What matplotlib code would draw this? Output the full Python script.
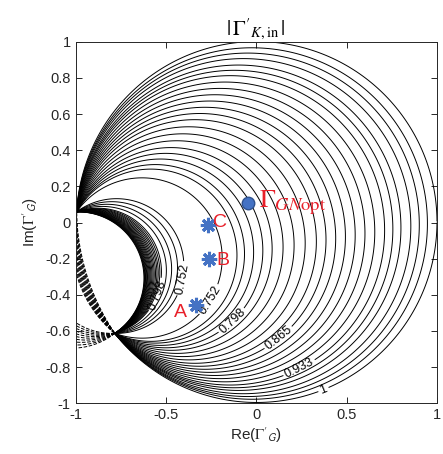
import numpy as np
import matplotlib
matplotlib.use("Agg")
import matplotlib.pyplot as plt

plt.rcParams['font.family'] = ['Liberation Sans', 'DejaVu Sans']
plt.rcParams['mathtext.fontset'] = 'stix'
plt.rcParams['axes.unicode_minus'] = False

# ---------------- data ----------------
# two common points through which every contour arc passes
pencil_a = (-0.995, 0.059)
pencil_b = (-0.784, -0.613)

# outer arcs (right of the minimum): crossing of Im=0, from |G|=1 inwards
outer_cross_x = [1.0, 0.947, 0.902, 0.855, 0.800, 0.755, 0.709, 0.654, 0.599,
                 0.544, 0.489, 0.434, 0.379, 0.324, 0.260, 0.196, 0.132, 0.068,
                 0.013, -0.042, -0.097, -0.143, -0.235]
# inner arcs (left of the minimum): inscribed angle (deg) of each arc
inner_arc_deg = [71.0, 75.2, 79.5, 83.7, 88.0, 89.5, 91.0, 92.3, 93.7, 95.0,
                 96.2, 97.4, 98.5, 99.5, 100.5, 101.5, 102.4, 103.2, 104.0,
                 104.7, 105.4, 106.0, 106.6]
# arcs on the far side of the chord: thin band near the left edge
band_arc_deg = [147.0, 148.5, 150.0, 151.5, 153.0, 154.5, 156.0, 157.5, 159.0,
                160.5, 162.0, 163.5]
# arcs fanning out of the lower common point to the left edge
fan_arc_deg = [69, 73, 77, 81, 85, 89, 93, 97, 101, 105]

# contour labels: text, which arc, position
label_text = ['1', '0.933', '0.865', '0.798', '0.752', '0.752', '0.798']
label_arc = [('outer', 0), ('outer', 6), ('outer', 12), ('outer', 18),
             ('outer', 22), ('inner', 0), ('inner', 4)]
label_xy = [(0.37, -0.92), (0.22, -0.77), (0.10, -0.61), (-0.11, -0.57),
            (-0.27, -0.42), (-0.41, -0.31), (-0.55, -0.40)]

# annotated points
star_names = ['A', 'B', 'C']
star_x = [-0.335, -0.262, -0.266]
star_y = [-0.457, -0.204, -0.015]
star_label_x = [-0.418, -0.185, -0.203]
star_label_y = [-0.50, -0.208, -0.002]
opt_x, opt_y = -0.048, 0.11

x_ticks = [-1, -0.5, 0, 0.5, 1]
x_tick_labels = ['-1', '-0.5', '0', '0.5', '1']
y_ticks = [-1, -0.8, -0.6, -0.4, -0.2, 0, 0.2, 0.4, 0.6, 0.8, 1]
y_tick_labels = ['-1', '-0.8', '-0.6', '-0.4', '-0.2', '0', '0.2', '0.4',
                 '0.6', '0.8', '1']

# ---------------- field: angle of the circle pencil ----------------
a = complex(*pencil_a)
b = complex(*pencil_b)

def arc_angle(z):
    return -np.degrees(np.angle((z - a) / (z - b)))

n = 1401
xs = np.linspace(-1, 1, n)
ys = np.linspace(-1, 1, n)
X, Y = np.meshgrid(xs, ys)
T = arc_angle(X + 1j * Y)
T = np.where(np.abs(T) > 172, np.nan, T)

outer_levels = [float(arc_angle(complex(x, 0.0))) for x in outer_cross_x]
inner_levels = [float(v) for v in inner_arc_deg]
left_levels = [-float(v) for v in band_arc_deg] + [-float(v) for v in fan_arc_deg]

groups = {'outer': outer_levels, 'inner': inner_levels}
lab_levels = [groups[g][i] for g, i in label_arc]
fmt = {}
for lev, txt in zip(lab_levels, label_text):
    fmt[lev] = txt

all_levels = set(outer_levels + inner_levels + left_levels)
plain_levels = sorted(all_levels - set(lab_levels))
labelled_levels = sorted(set(lab_levels))

fig = plt.figure(figsize=(4.43, 4.54), dpi=100)
ax = fig.add_axes([0.1709, 0.1117, 0.8155, 0.7964])

ax.contour(X, Y, T, levels=plain_levels, colors='black', linewidths=0.7)
cs_lab = ax.contour(X, Y, T, levels=labelled_levels, colors='black', linewidths=0.7)
ax.clabel(cs_lab, fmt=fmt, manual=label_xy, inline=True, inline_spacing=2,
          fontsize=9, colors='black')

blue = '#4472C4'
red = '#E8202A'
ax.plot(star_x, star_y, linestyle='none', marker=(8, 2, 0), markersize=11,
        markeredgewidth=2.2, color=blue, zorder=5)
for nm, lx, ly in zip(star_names, star_label_x, star_label_y):
    ax.text(lx, ly, nm, color=red, fontsize=14, ha='center', va='center', zorder=6)
ax.plot([opt_x], [opt_y], linestyle='none', marker='o', markersize=9,
        markerfacecolor=blue, markeredgecolor='#2F528F', markeredgewidth=1.0, zorder=5)
ax.text(opt_x + 0.06, opt_y, r"$\Gamma_{GN\mathrm{opt}}$", color=red, fontsize=19,
        ha='left', va='center', zorder=6)

ax.set_xlim(-1, 1)
ax.set_ylim(-1, 1)
ax.set_xticks(x_ticks)
ax.set_xticklabels(x_tick_labels)
ax.set_yticks(y_ticks)
ax.set_yticklabels(y_tick_labels)
ax.tick_params(direction='in', top=True, right=True, length=4, width=0.7,
               labelsize=10.5, colors='#262626', labelcolor='#262626')
for s in ax.spines.values():
    s.set_color('#262626')
    s.set_linewidth(0.7)

ax.set_xlabel(r"Re($\Gamma'_{\mathsf{G}}$)", fontsize=11, color='#262626', labelpad=2)
ax.set_ylabel(r"Im($\Gamma'_{\mathsf{G}}$)", fontsize=11, color='#262626', labelpad=4)
ax.set_title(r"$|\,\Gamma'_{K,\mathrm{in}}\,|$", fontsize=15, pad=5)

fig.savefig('out.png', dpi=100)
